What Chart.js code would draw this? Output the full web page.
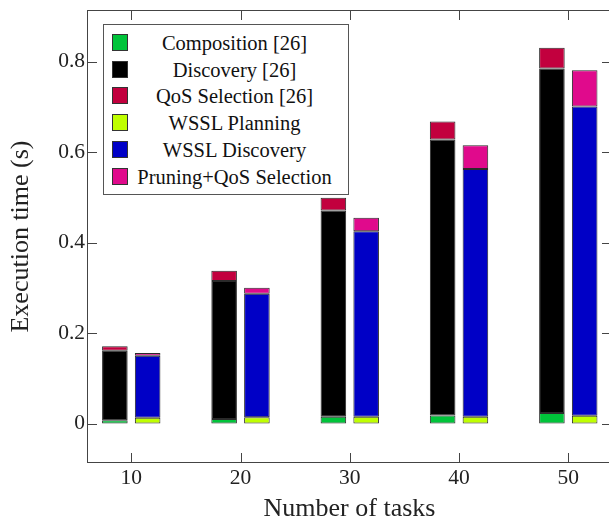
<!DOCTYPE html>
<html>
<head>
<meta charset="utf-8">
<script src="https://cdn.jsdelivr.net/npm/chart.js@4/dist/chart.umd.min.js"></script>
<style>
  html, body { margin: 0; padding: 0; background: #fff; overflow: hidden; }
  #wrap { position: absolute; left: 0; top: 0; width: 616px; height: 522px; }
  #legend {
    position: absolute; left: 103px; top: 24px; width: 244px; height: 169px;
    border: 1px solid #555; background: #fff;
    font-family: "Liberation Serif", serif; font-size: 20.5px; color: #111;
  }
  .item { position: absolute; left: 0; width: 244px; height: 26px; }
  .swatch { position: absolute; left: 8px; top: 4px; width: 14px; height: 15px; border: 1px solid #333; }
  .label { position: absolute; left: 24px; width: 213px; top: 0; line-height: 26px; text-align: center; white-space: nowrap; }
</style>
</head>
<body>
<div id="wrap">
  <canvas id="chart" width="616" height="522"></canvas>
  <div id="legend"></div>
</div>
<script>
/* data */
var tasks = [10, 20, 30, 40, 50];
var composition = [0.007, 0.010, 0.015, 0.018, 0.023];
var discovery = [0.154, 0.305, 0.456, 0.610, 0.762];
var qosSelection = [0.010, 0.023, 0.028, 0.040, 0.046];
var wsslPlanning = [0.013, 0.014, 0.015, 0.015, 0.017];
var wsslDiscovery = [0.137, 0.273, 0.410, 0.548, 0.684];
var pruningQos = [0.006, 0.013, 0.030, 0.052, 0.080];

var seriesNames = ['Composition [26]', 'Discovery [26]', 'QoS Selection [26]',
  'WSSL Planning', 'WSSL Discovery', 'Pruning+QoS Selection'];
var seriesValues = [composition, discovery, qosSelection, wsslPlanning, wsslDiscovery, pruningQos];
var seriesStacks = ['old', 'old', 'old', 'wssl', 'wssl', 'wssl'];
var seriesColors = ['#00c43a', '#000000', '#c2003e', '#bfff00', '#0000c6', '#e00a8c'];

var serif = '"Liberation Serif", serif';

var datasets = seriesNames.map(function(name, i) {
  return {
    label: name,
    stack: seriesStacks[i],
    data: tasks.map(function(t, j) { return {x: t, y: seriesValues[i][j]}; }),
    backgroundColor: seriesColors[i],
    borderColor: '#2a2a2a',
    borderWidth: 1,
    borderSkipped: false,
    categoryPercentage: 0.6,
    barPercentage: 0.78
  };
});

/* frame with inward ticks on all four sides */
var framePlugin = {
  id: 'frame',
  afterDraw: function(chart) {
    var c = chart.ctx;
    var a = chart.chartArea;
    var xs = chart.scales.x, ys = chart.scales.y;
    var len = 10;
    c.save();
    c.strokeStyle = '#444';
    c.lineWidth = 1;
    c.strokeRect(a.left + 0.5, a.top + 0.5, a.right - a.left - 1, a.bottom - a.top - 1);
    c.fillStyle = '#444';
    xs.getTicks().forEach(function(t) {
      var px = Math.round(xs.getPixelForValue(t.value));
      c.fillRect(px, a.bottom - len, 1, len);
      c.fillRect(px, a.top, 1, len);
    });
    ys.getTicks().forEach(function(t) {
      var py = Math.round(ys.getPixelForValue(t.value));
      c.fillRect(a.left, py, len, 1);
      c.fillRect(a.right - len, py, len, 1);
    });
    c.restore();
  }
};

var el = document.getElementById('chart');
var chart = new Chart(el, {
  type: 'bar',
  data: { datasets: datasets },
  options: {
    responsive: false,
    animation: false,
    layout: { padding: { top: 10, left: 0, right: 4, bottom: 0 } },
    plugins: { legend: { display: false }, tooltip: { enabled: false } },
    scales: {
      x: {
        type: 'linear',
        min: 5.95,
        max: 54,
        offset: false,
        grid: { display: false, offset: false, drawTicks: false, tickLength: 0 },
        border: { display: false },
        ticks: { stepSize: 10, includeBounds: false, padding: 2, color: '#222', font: { family: serif, size: 21.5 } },
        title: { display: true, text: 'Number of tasks', color: '#222', font: { family: serif, size: 26, lineHeight: 1 }, padding: { top: 0, bottom: 0 } },
        afterFit: function(scale) { scale.height = 59; scale.paddingLeft = 0; scale.paddingRight = 0; }
      },
      y: {
        stacked: true,
        min: -0.0873,
        max: 0.9143,
        grid: { display: false, drawTicks: false, tickLength: 0 },
        border: { display: false },
        ticks: { stepSize: 0.2, includeBounds: false, padding: 2, color: '#222', font: { family: serif, size: 21.5 } },
        title: { display: true, text: 'Execution time (s)', color: '#222', font: { family: serif, size: 26, lineHeight: 1 }, padding: { top: 8, bottom: 0 } },
        afterFit: function(scale) { scale.width = 87; scale.paddingTop = 0; scale.paddingBottom = 0; }
      }
    }
  },
  plugins: [framePlugin]
});

/* legend box inside the plot, built from the series arrays */
var legend = document.getElementById('legend');
seriesNames.forEach(function(name, i) {
  var item = document.createElement('div');
  item.className = 'item';
  item.style.top = (5 + i * 26.7) + 'px';
  var sw = document.createElement('div');
  sw.className = 'swatch';
  sw.style.background = seriesColors[i];
  var lab = document.createElement('div');
  lab.className = 'label';
  lab.textContent = name;
  item.appendChild(sw);
  item.appendChild(lab);
  legend.appendChild(item);
});
</script>
</body>
</html>
